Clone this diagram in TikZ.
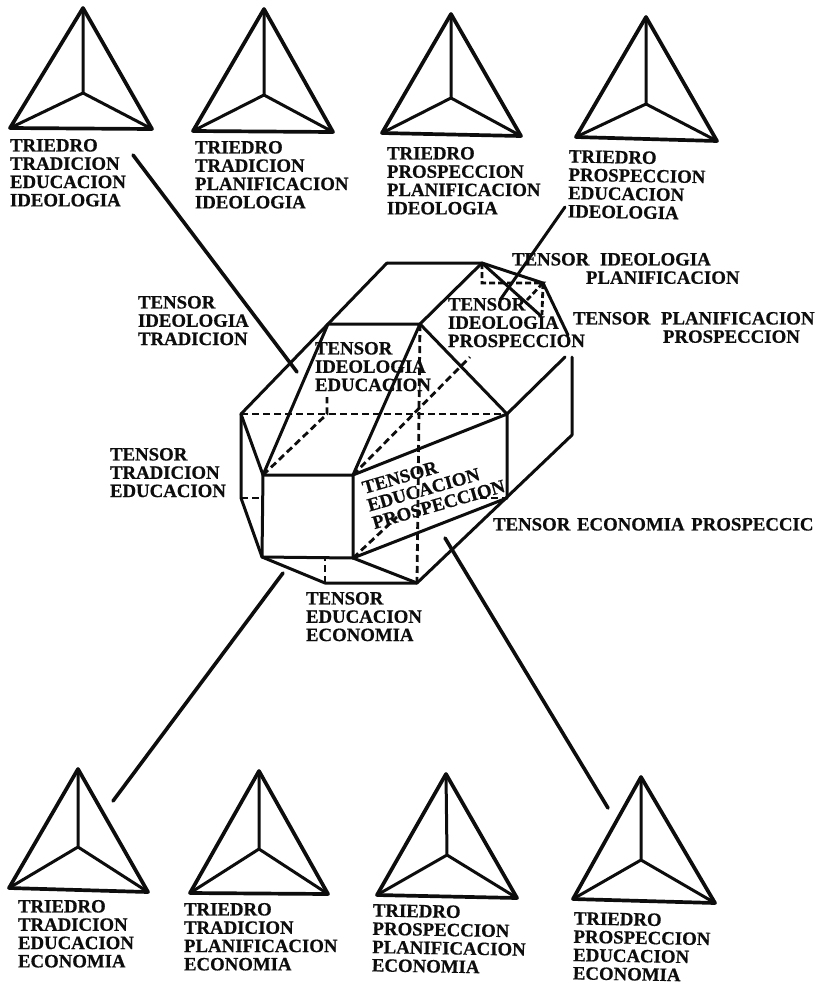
\documentclass[tikz,border=0pt]{standalone}
\usepackage{fontspec}
\setmainfont{Liberation Serif}[BoldFeatures={FakeBold=0.6}]
\newcommand{\triedro}[5]{%
  \coordinate (#1a) at (#2);
  \coordinate (#1l) at (#3);
  \coordinate (#1r) at (#4);
  \coordinate (#1c) at (#5);
  \draw[trifig] (#1a) -- (#1l) -- (#1r) -- cycle;
  \draw[trifig,line width=3pt] (#1a) -- (#1c) (#1l) -- (#1c) -- (#1r);
}
\tikzset{
  trifig/.style={line width=3.7pt,line join=round,line cap=round,color=black!95},
  edge/.style={line width=3pt,line join=round,line cap=round,color=black!95},
  hidden/.style={line width=2.8pt,color=black!95,dash pattern=on 7pt off 4pt},
  leader/.style={line width=3.6pt,line cap=round,color=black!95},
  lab/.style={anchor=north west,inner sep=0pt,outer sep=0pt,align=left,color=black!95,
    font=\fontsize{18.8}{18.3}\selectfont\bfseries},
}
\begin{document}
\begin{tikzpicture}[x=1pt,y=-1pt]
\useasboundingbox (0,0) rectangle (816,986);
% triangles
\triedro{ta}{83,8}{10,128}{152,129}{83,93}
\triedro{tb}{264,9}{193,131}{333,132}{264,95}
\triedro{tc}{451,14}{382,133}{521,136}{451,98}
\triedro{td}{646,17}{576,137}{717,141}{646,104}
\triedro{ba}{78,769}{9,888}{148,892}{78,847}
\triedro{bb}{259,771}{190,893}{328,894}{259,849}
\triedro{bc}{446,774}{377,895}{517,898}{447,855}
\triedro{bd}{641,777}{573,899}{715,903}{641,860}
% polyhedron vertices
\coordinate (A) at (387,263);
\coordinate (B) at (482,263);
\coordinate (C) at (543,283);
\coordinate (D) at (568,335);
\coordinate (B2) at (541,316);
\coordinate (E) at (572,357);
\coordinate (F2) at (565,357);
\coordinate (R) at (572,435);
\coordinate (F) at (507,414);
\coordinate (G) at (420,324);
\coordinate (H) at (328,324);
\coordinate (I) at (241,414);
\coordinate (J) at (263,475);
\coordinate (K) at (353,475);
\coordinate (L) at (262,557);
\coordinate (M) at (353,558);
\coordinate (N) at (417,583);
\coordinate (O) at (325,583);
\coordinate (P) at (241,498);
\coordinate (Q) at (507,498);
% hidden points
\coordinate (S) at (327,414);
\coordinate (S2) at (327,397);
\coordinate (T) at (482,283);
\coordinate (U) at (527,300);
\coordinate (V) at (542,315);
\coordinate (W) at (470,357);
\coordinate (X) at (397,517);
\coordinate (Y) at (325,557);
\coordinate (Z) at (480,498);
\coordinate (P2) at (263,498);
% solid edges
\draw[edge] (A) -- (B) -- (C) -- (D);
\draw[edge] (B) -- (B2);
\draw[edge] (A) -- (I) -- (P) -- (L) -- (O) -- (N) -- (R) -- (E);
\draw[edge] (B) -- (G) -- (F) -- (F2);
\draw[edge] (H) -- (G) -- (K);
\draw[edge] (H) -- (J) -- (K) -- (F) -- (Q) -- (M) -- (K);
\draw[edge] (I) -- (J) -- (L) -- (M) -- (N);
% hidden edges
\draw[hidden] (I) -- (F);
\draw[hidden] (J) -- (S) -- (S2);
\draw[hidden] (G) -- (N);
\draw[hidden] (K) -- (W);
\draw[hidden] (M) -- (X);
\draw[hidden] (P) -- (P2);
\draw[hidden] (Z) -- (Q);
\draw[hidden] (O) -- (Y);
\draw[hidden,dash pattern=on 6pt off 3pt] (B) -- (T) -- (C) -- (U);
\draw[hidden,dash pattern=on 6pt off 3pt] (C) -- (V);
% leaders
\coordinate (l1a) at (133,155); \coordinate (l1b) at (297,372);
\coordinate (l2a) at (565,207); \coordinate (l2b) at (500,300);
\coordinate (l3a) at (113,801); \coordinate (l3b) at (283,573);
\coordinate (l4a) at (608,808); \coordinate (l4b) at (445,538);
\draw[leader] (l1a) -- (l1b);
\draw[leader,line width=3pt] (l2a) -- (l2b);
\draw[leader] (l3a) -- (l3b);
\draw[leader] (l4a) -- (l4b);
% triedro labels
\node[lab] (lta) at (10,139) {TRIEDRO\\TRADICION\\EDUCACION\\IDEOLOGIA};
\node[lab] (ltb) at (195,141) {TRIEDRO\\TRADICION\\PLANIFICACION\\IDEOLOGIA};
\node[lab] (ltc) at (387,147) {TRIEDRO\\PROSPECCION\\PLANIFICACION\\IDEOLOGIA};
\node[lab,rotate=-1] (ltd) at (569,150) {TRIEDRO\\PROSPECCION\\EDUCACION\\IDEOLOGIA};
\node[lab] (lba) at (18,900) {TRIEDRO\\TRADICION\\EDUCACION\\ECONOMIA};
\node[lab] (lbb) at (184,903) {TRIEDRO\\TRADICION\\PLANIFICACION\\ECONOMIA};
\node[lab,rotate=-1] (lbc) at (373,904) {TRIEDRO\\PROSPECCION\\PLANIFICACION\\ECONOMIA};
\node[lab,rotate=-1] (lbd) at (574,912) {TRIEDRO\\PROSPECCION\\EDUCACION\\ECONOMIA};
% tensor labels
\node[lab] (t1) at (512,253) {TENSOR\hspace{6pt} IDEOLOGIA\\\hspace*{74pt}PLANIFICACION};
\node[lab] (t2) at (573,312) {TENSOR\hspace{6pt} PLANIFICACION\\\hspace*{90pt}PROSPECCION};
\node[lab] (t3) at (138,296) {TENSOR\\IDEOLOGIA\\TRADICION};
\node[lab] (t4) at (315,342) {TENSOR\\IDEOLOGIA\\EDUCACION};
\node[lab] (t5) at (448,298) {TENSOR\\IDEOLOGIA\\PROSPECCION};
\node[lab] (t6) at (110,448) {TENSOR\\TRADICION\\EDUCACION};
\node[lab,rotate=16] (t7) at (361,482) {TENSOR\\EDUCACION\\PROSPECCION};
\node[lab] (t8) at (493,518) {TENSOR\hspace{2pt} ECONOMIA\hspace{2pt} PROSPECCIC};
\node[lab] (t9) at (306,592) {TENSOR\\EDUCACION\\ECONOMIA};
\end{tikzpicture}
\end{document}
